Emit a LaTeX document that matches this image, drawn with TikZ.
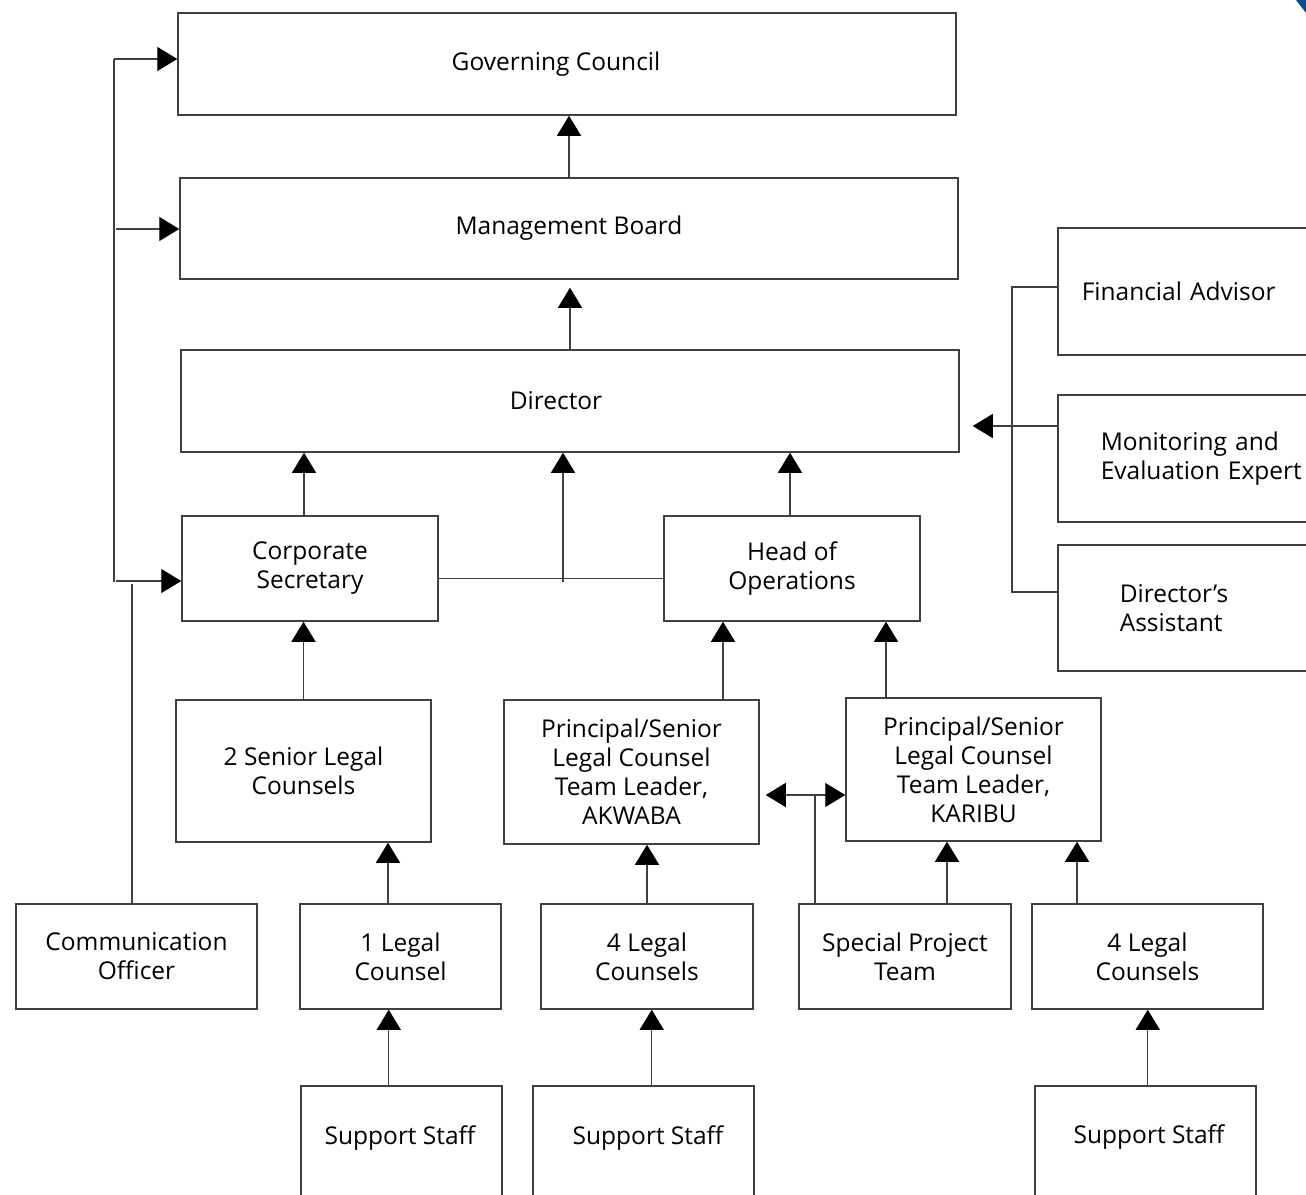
\documentclass[tikz,border=0pt]{standalone}
\usepackage{fontspec}
\setmainfont{Open Sans}
\usetikzlibrary{arrows.meta,positioning}

\definecolor{linegray}{HTML}{404040}
\definecolor{cornerblue}{HTML}{0B4A8B}

\tikzset{
  unit/.style={draw=linegray, line width=1.5pt, align=center, inner sep=0pt,
    font=\fontsize{24.5}{29}\selectfont},
  sideunit/.style={unit, anchor=north west, align=left, minimum height=127},
  word/.style={inner sep=0pt, align=center, font=\fontsize{24.5}{29}\selectfont},
  wire/.style={draw=linegray, line width=1.3pt},
  link/.style={wire, -{Triangle[width=24pt,length=20pt,color=black]}},
  twolink/.style={wire, {Triangle[width=24pt,length=20pt,color=black]}-{Triangle[width=24pt,length=20pt,color=black]}}
}

\begin{document}
\begin{tikzpicture}[x=1pt, y=-1pt]
    \useasboundingbox (0,0) rectangle (1306,1194);
    \clip (0,0) rectangle (1306,1194);

    % corner mark
    \fill[cornerblue] (1296,0) -- (1306,0) -- (1306,13) -- cycle;

    % Top of the chain
    \node[unit, minimum width=778, minimum height=102] (gc) at (567,64) {Governing Council\hspace*{22pt}};
    \node[unit, minimum width=778, minimum height=101] (mb) at (569,228.5) {Management Board};
    \node[unit, minimum width=778, minimum height=102] (dir) at (570,401) {Director\hspace*{28pt}};

    % Second level
    \node[unit, minimum width=256, minimum height=105] (cs) at (310,568.5) {Corporate\\Secretary};
    \node[unit, minimum width=256, minimum height=105] (hoo) at (792,568.5) {Head of\\Operations};

    % Director's office (cut at the right edge)
    \node[sideunit, inner xsep=24, text width=230] (fa) at (1057,227) {Financial Advisor};
    \node[sideunit, inner xsep=43, text width=230] (mee) at (1057,394) {Monitoring and\\Evaluation Expert};
    \node[sideunit, inner xsep=62, text width=230, minimum height=126] (da) at (1057,544) {Director’s\\Assistant};

    % Team leaders
    \node[unit, minimum width=255, minimum height=142] (sl2) at (303.5,771) {2 Senior Legal\\Counsels};
    \node[unit, minimum width=255, minimum height=144] (akw) at (631.5,772) {Principal/Senior\\Legal Counsel\\Team Leader,\\AKWABA};
    \node[unit, minimum width=255, minimum height=143] (kar) at (973.5,769.5) {Principal/Senior\\Legal Counsel\\Team Leader,\\KARIBU};

    % Counsels
    \node[unit, minimum width=241, minimum height=105] (co) at (136.5,956.5) {Communication\\Officer};
    \node[unit, minimum width=201, minimum height=105] (lc1) at (400.5,956.5) {1 Legal\\Counsel};
    \node[unit, minimum width=212, minimum height=105] (lc4a) at (647,956.5) {4 Legal\\Counsels};
    \node[unit, minimum width=212, minimum height=105] (spt) at (905,956.5) {Special Project\\Team};
    \node[unit, minimum width=231, minimum height=105] (lc4b) at (1147.5,956.5) {4 Legal\\Counsels};

    % Support staff (cut at the bottom edge)
    \node[unit, anchor=north west, minimum width=201, minimum height=160] (ss1) at (300,1085) {};
    \node[unit, anchor=north west, minimum width=221, minimum height=160] (ss2) at (532,1085) {};
    \node[unit, anchor=north west, minimum width=221, minimum height=160] (ss3) at (1034,1085) {};
    \node[word] (ss1t) at (400,1138) {Support Staff};
    \node[word] (ss2t) at (648,1138) {Support Staff};
    \node[word] (ss3t) at (1149,1137) {Support Staff};

    % Up the chain
    \draw[link] (mb.north) -- (mb.north |- gc.south);
    \draw[link, shorten >=8pt] (dir.north) -- (dir.north |- mb.south);
    \draw[link] ([xshift=-6]cs.north) -- ([xshift=-6]cs.north |- dir.south);
    \draw[link] ([xshift=-2]hoo.north) -- ([xshift=-2]hoo.north |- dir.south);

    % Corporate Secretary -- Head of Operations
    \coordinate (mid) at (563,582);
    \draw[wire] ([yshift=-10]cs.east) -- ([yshift=-10]hoo.west);
    \draw[link] (mid) -- (mid |- dir.south);

    % Left spine
    \coordinate (spT) at (114,59);
    \coordinate (spB) at (114,582);
    \coordinate (coj) at (132,584);
    \draw[wire] (spT) -- (spB);
    \draw[link] (spT) -- (spT -| gc.west);
    \draw[link] (116,229) -- (116,229 -| mb.west);
    \draw[link] (116,581) -- (116,581 -| cs.west);
    \draw[wire] (co.north -| coj) -- (coj);

    % Right spine
    \coordinate (rsT) at (1012,287);
    \coordinate (rsB) at (1012,592);
    \coordinate (meej) at (1057,426);
    \draw[wire] (rsT -| fa.west) -- (rsT) -- (rsB) -- (rsB -| da.west);
    \draw[link, shorten >=13pt] (meej) -- (meej -| dir.east);

    % Team leaders up
    \draw[link] (sl2.north) -- (sl2.north |- cs.south);
    \draw[link] ([xshift=91.5]akw.north) -- ([xshift=91.5]akw.north |- hoo.south);
    \draw[link] ([xshift=-87.5]kar.north) -- ([xshift=-87.5]kar.north |- hoo.south);

    % Counsels up
    \draw[link] ([xshift=-12.5]lc1.north) -- ([xshift=-12.5]lc1.north |- sl2.south);
    \draw[link] (lc4a.north) -- (lc4a.north |- akw.south);
    \draw[link] ([xshift=42]spt.north) -- ([xshift=42]spt.north |- kar.south);
    \draw[link] ([xshift=-70.5]lc4b.north) -- ([xshift=-70.5]lc4b.north |- kar.south);

    % Between the two teams
    \coordinate (dbl) at (815,795);
    \draw[twolink, shorten <=6pt] (dbl -| akw.east) -- (dbl -| kar.west);
    \draw[wire] (spt.north -| dbl) -- (dbl);

    % Support staff up
    \draw[link] ([xshift=-12.5]ss1.north) -- ([xshift=-12.5]ss1.north |- lc1.south);
    \draw[link] ([xshift=8.5]ss2.north) -- ([xshift=8.5]ss2.north |- lc4a.south);
    \draw[link] ([xshift=2.5]ss3.north) -- ([xshift=2.5]ss3.north |- lc4b.south);
\end{tikzpicture}
\end{document}
